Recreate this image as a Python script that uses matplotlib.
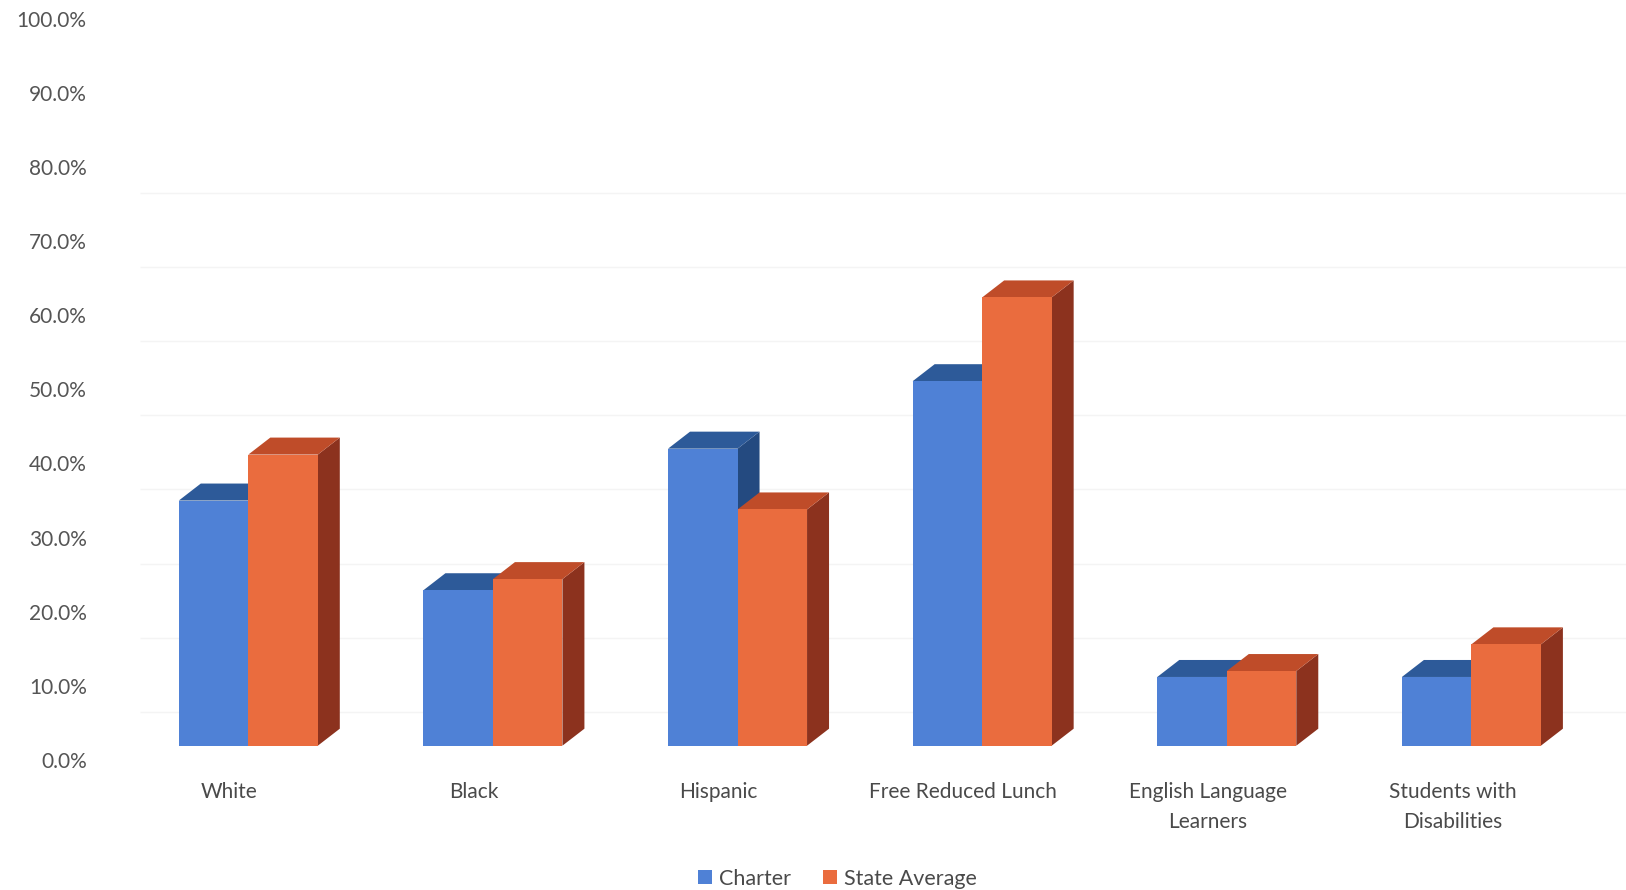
import numpy as np
import matplotlib
matplotlib.use("Agg")
import matplotlib.pyplot as plt
from matplotlib.patches import Polygon, Patch

plt.rcParams["font.family"] = ["Lato", "DejaVu Sans"]

# --- data (percent) ---
categories = ["White", "Black", "Hispanic", "Free Reduced Lunch",
              "English Language\nLearners", "Students with\nDisabilities"]
charter = [35.0, 22.9, 42.0, 51.1, 11.2, 11.2]
state_avg = [41.2, 24.4, 33.8, 62.4, 12.0, 15.6]
y_ticks = list(range(0, 101, 10))

# --- colours for the faux-3D faces: (front, top, side) ---
blue = ("#4f81d6", "#2d5a99", "#244a80")
orange = ("#ea6c3e", "#bf4c29", "#8c321e")

W_PX, H_PX = 1626, 890
fig = plt.figure(figsize=(W_PX / 100, H_PX / 100), dpi=100)
ax_l, ax_r, ax_b, ax_t = 120, 1626, 760, 18.7
ax = fig.add_axes([ax_l / W_PX, (H_PX - ax_b) / H_PX,
                   (ax_r - ax_l) / W_PX, (ax_b - ax_t) / H_PX])

x0, x1 = -0.5245, 5.632
ax.set_xlim(x0, x1)
ax.set_ylim(0, 100)

# convert the bar depth (pixels) to data units
px_x = (ax_r - ax_l) / (x1 - x0)
px_y = (ax_b - ax_t) / 100.0
dx = 22 / px_x
dy = 17 / px_y
floor = 14.3 / px_y          # bars stand on a slightly raised floor
grid_shift = 26 / px_y       # back-wall gridlines sit lower than labels
bar_w = 69.5 / px_x

x = np.arange(len(categories))

# faint back-wall gridlines
ax.hlines([v - grid_shift for v in y_ticks[1:9]], x0 + 20 / px_x, x1,
          colors="#f4f4f4", linewidth=1.0, zorder=0)


def draw_bar(xl, val, cols, z):
    front, top, side = cols
    xr = xl + bar_w
    ax.bar(xl, val - floor, width=bar_w, bottom=floor, align="edge",
           color=front, linewidth=0, zorder=z + 0.2)
    ax.add_patch(Polygon([(xr, floor), (xr + dx, floor + dy),
                          (xr + dx, val + dy), (xr, val)],
                         closed=True, facecolor=side, edgecolor="none",
                         zorder=z))
    ax.add_patch(Polygon([(xl, val), (xr, val), (xr + dx, val + dy),
                          (xl + dx, val + dy)],
                         closed=True, facecolor=top, edgecolor="none",
                         zorder=z + 0.1))


for i in range(len(categories)):
    draw_bar(x[i] - bar_w, charter[i], blue, 2 + 2 * i)
    draw_bar(x[i], state_avg[i], orange, 3 + 2 * i)

# axes styling
for s in ax.spines.values():
    s.set_visible(False)
ax.set_yticks(y_ticks)
ax.set_yticklabels([f"{v:.1f}%" for v in y_ticks])
ax.tick_params(axis="y", length=0, pad=24, labelsize=15, labelcolor="#555555")

ax.set_xticks(x - 19 / px_x)
ax.set_xticklabels(categories)
ax.tick_params(axis="x", length=0, pad=16, labelsize=15, labelcolor="#4a4a4a")
for t in ax.get_xticklabels():
    t.set_linespacing(1.6)

handles = [Patch(facecolor=blue[0], edgecolor="none"),
           Patch(facecolor=orange[0], edgecolor="none")]
leg = fig.legend(handles, ["Charter", "State Average"], loc="center",
                 bbox_to_anchor=(0.515, 0.0125), ncol=2, frameon=False,
                 handlelength=0.65, handleheight=0.65, handletextpad=0.3,
                 columnspacing=1.5, fontsize=15.5)
for t in leg.get_texts():
    t.set_color("#4a4a4a")

fig.savefig("out.png", dpi=100)
